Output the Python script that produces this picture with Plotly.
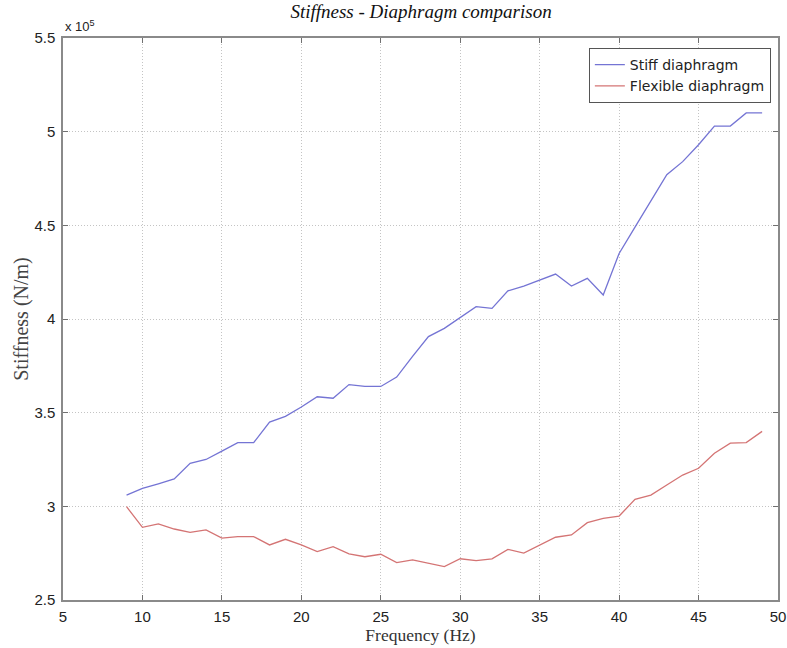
import plotly.graph_objects as go

freq = list(range(9, 50))
stiff = [3.06, 3.096, 3.12, 3.146, 3.23, 3.25, 3.295, 3.34, 3.34, 3.45, 3.48, 3.53,
         3.585, 3.577, 3.65, 3.64, 3.64, 3.69, 3.80, 3.906, 3.95, 4.01, 4.066, 4.057,
         4.15, 4.176, 4.21, 4.24, 4.176, 4.217, 4.128, 4.35, 4.49, 4.627, 4.77, 4.84,
         4.93, 5.03, 5.03, 5.10, 5.10]
flexible = [2.998, 2.888, 2.906, 2.879, 2.861, 2.874, 2.83, 2.838, 2.838, 2.794, 2.824,
            2.794, 2.758, 2.785, 2.746, 2.731, 2.744, 2.70, 2.714, 2.696, 2.678, 2.72,
            2.71, 2.72, 2.77, 2.75, 2.794, 2.835, 2.847, 2.913, 2.936, 2.948, 3.037,
            3.06, 3.114, 3.167, 3.203, 3.283, 3.337, 3.34, 3.40]
x_ticks = [5, 10, 15, 20, 25, 30, 35, 40, 45, 50]
y_ticks = [2.5, 3, 3.5, 4, 4.5, 5, 5.5]
y_tick_text = ["2.5", "3", "3.5", "4", "4.5", "5", "5.5"]

fig = go.Figure()
fig.add_trace(go.Scatter(x=freq, y=stiff, mode="lines", name="Stiff diaphragm",
                         line=dict(color="#7474d4", width=1.3)))
fig.add_trace(go.Scatter(x=freq, y=flexible, mode="lines", name="Flexible diaphragm",
                         line=dict(color="#d47474", width=1.3)))

axis_common = dict(showgrid=True, gridcolor="#c4c4c4", griddash="1px,2px", gridwidth=1,
                   showline=True, linecolor="#8a8a8a", linewidth=1.5, mirror="ticks",
                   ticks="inside", ticklen=5, tickcolor="#707070", zeroline=False,
                   automargin=False,
                   tickfont=dict(family="Liberation Sans, Arial", size=15, color="#222"))

fig.update_layout(
    width=787, height=648,
    margin=dict(l=63, r=9, t=38, b=48),
    paper_bgcolor="white", plot_bgcolor="white",
    title=dict(text="<i>Stiffness - Diaphragm comparison</i>", x=0.535, xanchor="center",
               y=0.982, yanchor="middle",
               font=dict(family="Liberation Serif, Times New Roman", size=19, color="#111")),
    xaxis=dict(range=[5, 50], tickvals=x_ticks, ticklabelstandoff=2,
               title=dict(text="Frequency (Hz)", standoff=5,
                          font=dict(family="Liberation Serif, Times New Roman", size=17.5, color="#333")),
               **axis_common),
    yaxis=dict(range=[2.5, 5.5], tickvals=y_ticks, ticktext=y_tick_text, ticklabelstandoff=3,
               title=dict(text="Stiffness (N/m)", standoff=0,
                          font=dict(family="Liberation Serif, Times New Roman", size=20, color="#444")),
               **axis_common),
    legend=dict(x=0.99, y=0.982, xanchor="right", yanchor="top",
                bgcolor="white", bordercolor="#555", borderwidth=1,
                font=dict(family="DejaVu Sans, Liberation Sans", size=14, color="#222"),
                tracegroupgap=0, itemwidth=30),
    showlegend=True,
)
fig.add_annotation(text="x 10<sup>5</sup>", xref="paper", yref="paper", x=0.0, y=1.0,
                   xanchor="left", yanchor="bottom", showarrow=False, yshift=2,
                   font=dict(family="Liberation Sans, Arial", size=13, color="#222"))

fig.write_html("out.html", config={"displayModeBar": False},
               post_script="document.body.style.margin='0';document.body.style.overflow='hidden';")
